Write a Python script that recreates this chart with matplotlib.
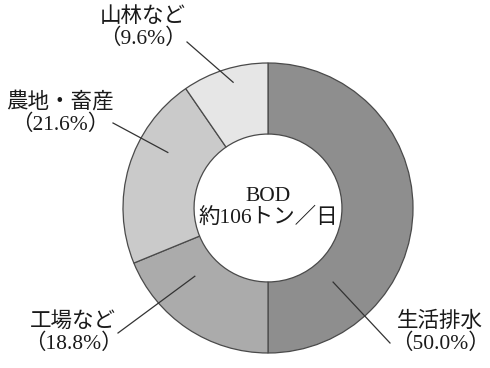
import matplotlib.pyplot as plt
import numpy as np

# BOD sources (share of approx. 106 t/day)
labels = ["生活排水", "工場など", "農地・畜産", "山林など"]
shares = [50.0, 18.8, 21.6, 9.6]
colors = ["#8e8e8e", "#ababab", "#cacaca", "#e6e6e6"]

# label text positions (pixels, y down) and leader line anchors (angle deg, radius frac)
label_pos = [(440, 333), (73, 333), (60, 113), (143, 28)]
anchor = [(-48.7, 0.68), (223, 0.69), (151, 0.79), (105.5, 0.90)]
line_start = [(390, 343), (118, 333), (113, 123), (187, 42)]

plt.rcParams['font.family'] = ['Liberation Serif', 'Noto Sans CJK JP']

W, H = 490, 368
fig = plt.figure(figsize=(W / 100, H / 100), dpi=100)
ax = fig.add_axes([0, 0, 1, 1])

cx, cy, R = 268, H - 208, 145
ax.pie(shares, colors=colors, startangle=90, counterclock=False,
       center=(cx, cy), radius=R, frame=True,
       wedgeprops=dict(width=R * 0.49, edgecolor="#4a4a4a", linewidth=0.9))
ax.set_xlim(0, W)
ax.set_ylim(0, H)
ax.set_aspect('equal')
ax.axis('off')

for lab, val, (tx, ty), (ang, rf), (lx, ly) in zip(labels, shares, label_pos, anchor, line_start):
    ax.text(tx, H - ty, f"{lab}\n（{val:.1f}%）", ha='center', va='center',
            fontsize=15.5, linespacing=1.1, color="#1a1a1a")
    a = np.deg2rad(ang)
    px, py = cx + R * rf * np.cos(a), cy + R * rf * np.sin(a)
    ax.plot([lx, px], [H - ly, py], color="#333333", lw=0.9)

ax.text(cx, H - 207, "BOD\n約106トン／日", ha='center', va='center',
        fontsize=15.5, linespacing=1.1, color="#1a1a1a")

fig.savefig("out.png", dpi=100)
